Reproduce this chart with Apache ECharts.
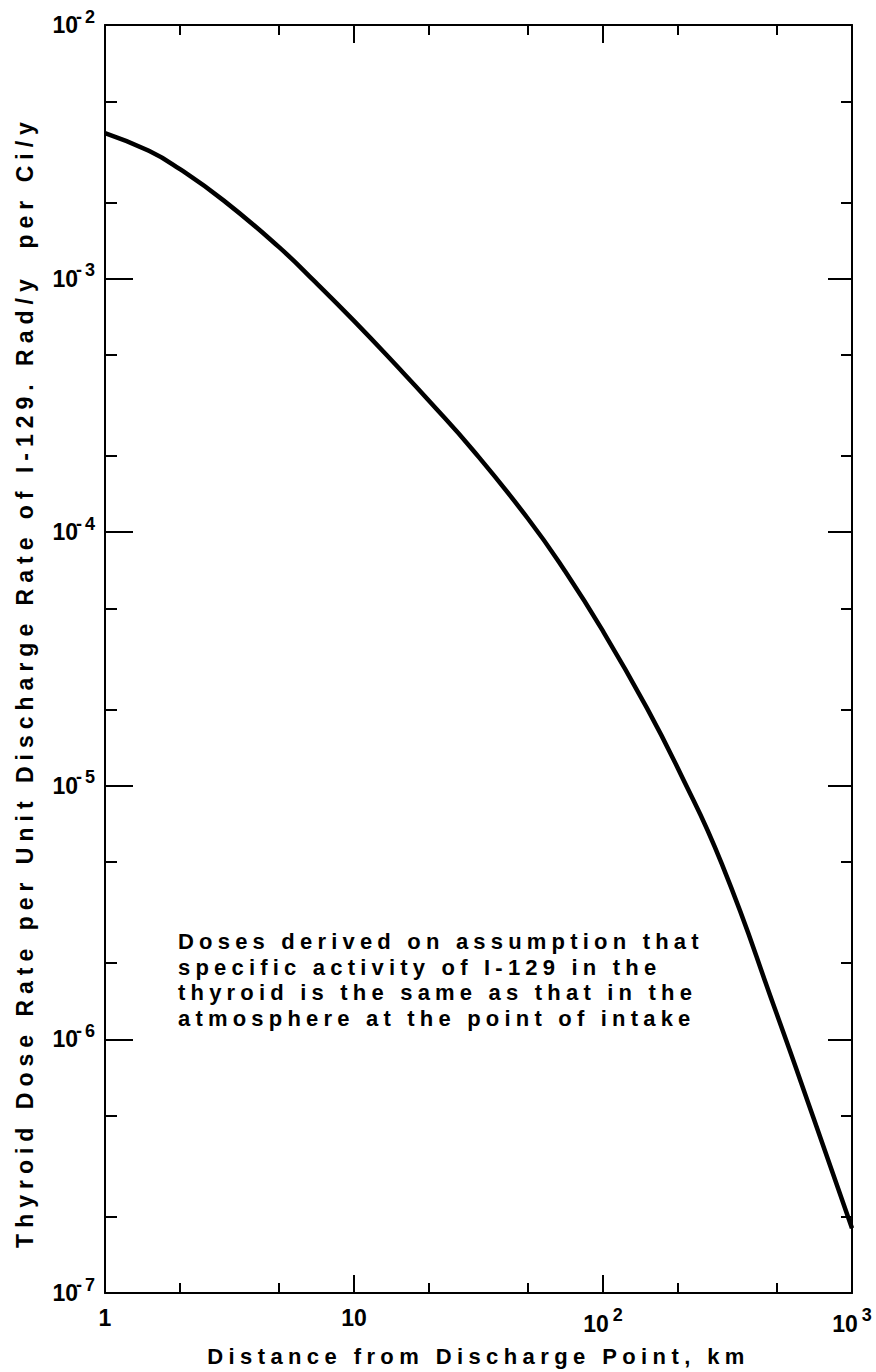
<!DOCTYPE html>
<html>
<head>
<meta charset="utf-8">
<script src="https://cdn.jsdelivr.net/npm/echarts@6/dist/echarts.min.js"></script>
<style>
  html, body { margin: 0; padding: 0; background: #fff; }
  #chart { width: 876px; height: 1372px; }
</style>
</head>
<body>
<div id="chart"></div>
<script>
// Distance from the discharge point (km) and thyroid dose rate per unit discharge rate (rad/y per Ci/y)
const distanceKm = [1, 1.5, 2, 3, 5, 7, 10, 15, 20, 30, 50, 70, 100, 150, 200, 300, 500, 700, 1000];
const doseRate = [3.75e-3, 3.19e-3, 2.70e-3, 2.03e-3, 1.33e-3, 9.68e-4, 6.81e-4, 4.48e-4, 3.30e-4, 2.11e-4, 1.13e-4, 7.08e-5, 4.07e-5, 2.03e-5, 1.17e-5, 4.92e-6, 1.25e-6, 4.91e-7, 1.80e-7];

// Tick positions
const xMajorTicks = [1, 10, 100, 1000];
const xMinorTicks = [2, 5, 20, 50, 200, 500];
const yMajorTicks = [1e-7, 1e-6, 1e-5, 1e-4, 1e-3, 1e-2];
const yMinorTicks = [2e-7, 5e-7, 2e-6, 5e-6, 2e-5, 5e-5, 2e-4, 5e-4, 2e-3, 5e-3];

const xTitle = 'Distance from Discharge Point, km';
const yTitle = 'Thyroid Dose Rate per Unit Discharge Rate of I-129. Rad/y\u00a0\u00a0per Ci/y';
const noteLines = [
  'Doses derived on assumption that',
  'specific activity of I-129 in the',
  'thyroid is the same as that in the',
  'atmosphere at the point of intake'
];

const FONT = 'Liberation Sans, Arial, sans-serif';
const INK = '#000';

// "10" followed by a raised exponent
function powerLabel(v) {
  const e = Math.round(Math.log10(v));
  if (e === 0) return '{b|1}';
  if (e === 1) return '{b|10}';
  return '{b|10}{s|' + (e < 0 ? '-' : '') + Math.abs(e) + '}';
}

const richLabel = {
  b: { fontFamily: FONT, fontSize: 23, fontWeight: 'bold', color: INK },
  s: { fontFamily: FONT, fontSize: 18, fontWeight: 'bold', color: INK, padding: [0, 0, 17, 4] }
};

const labelBase = {
  fontFamily: FONT, fontSize: 23, fontWeight: 'bold', color: INK,
  rich: richLabel, formatter: powerLabel
};

function baseAxis(extra) {
  return Object.assign({
    type: 'log',
    logBase: 10,
    splitLine: { show: false },
    axisLine: { show: false },
    axisLabel: { show: false },
    axisTick: { show: false }
  }, extra);
}

const chart = echarts.init(document.getElementById('chart'), null, { renderer: 'svg' });

const option = {
  animation: false,
  backgroundColor: '#fff',
  textStyle: { fontFamily: FONT, fontWeight: 'bold', color: INK },
  grid: { left: 105, right: 24, top: 25, bottom: 79, outerBoundsMode: 'none' },
  xAxis: [
    baseAxis({
      position: 'bottom', min: 1, max: 1000,
      axisLine: { show: true, lineStyle: { color: INK, width: 2 } },
      axisTick: { show: true, inside: true, length: 18, customValues: xMajorTicks, lineStyle: { color: INK, width: 2 } },
      axisLabel: Object.assign({ show: true, customValues: xMajorTicks, margin: 13 }, labelBase),
      name: xTitle, nameLocation: 'middle', nameGap: 52,
      nameTextStyle: { fontFamily: FONT, fontSize: 22, fontWeight: 'bold', color: INK }
    }),
    baseAxis({
      position: 'bottom', min: 1, max: 1000,
      axisTick: { show: true, inside: true, length: 10, customValues: xMinorTicks, lineStyle: { color: INK, width: 2 } }
    }),
    baseAxis({
      position: 'top', min: 1, max: 1000,
      axisLine: { show: true, lineStyle: { color: INK, width: 2 } },
      axisTick: { show: true, inside: true, length: 18, customValues: xMajorTicks, lineStyle: { color: INK, width: 2 } }
    }),
    baseAxis({
      position: 'top', min: 1, max: 1000,
      axisTick: { show: true, inside: true, length: 10, customValues: xMinorTicks, lineStyle: { color: INK, width: 2 } }
    })
  ],
  yAxis: [
    baseAxis({
      position: 'left', min: 1e-7, max: 1e-2,
      axisLine: { show: true, lineStyle: { color: INK, width: 2 } },
      axisTick: { show: true, inside: true, length: 28, customValues: yMajorTicks, lineStyle: { color: INK, width: 2 } },
      axisLabel: Object.assign({ show: true, customValues: yMajorTicks, margin: 7 }, labelBase)
    }),
    baseAxis({
      position: 'left', min: 1e-7, max: 1e-2,
      axisTick: { show: true, inside: true, length: 12, customValues: yMinorTicks, lineStyle: { color: INK, width: 2 } }
    }),
    baseAxis({
      position: 'right', min: 1e-7, max: 1e-2,
      axisLine: { show: true, lineStyle: { color: INK, width: 2 } },
      axisTick: { show: true, inside: true, length: 24, customValues: yMajorTicks, lineStyle: { color: INK, width: 2 } }
    }),
    baseAxis({
      position: 'right', min: 1e-7, max: 1e-2,
      axisTick: { show: true, inside: true, length: 11, customValues: yMinorTicks, lineStyle: { color: INK, width: 2 } }
    })
  ],
  graphic: [{
    // vertical axis title, reading bottom to top
    type: 'text',
    x: 25,
    y: 682,
    rotation: Math.PI / 2,
    style: {
      text: yTitle,
      fontFamily: FONT,
      fontSize: 23,
      fontWeight: 'bold',
      fill: INK,
      align: 'center',
      verticalAlign: 'middle'
    }
  }, {
    type: 'text',
    left: 178,
    top: 929,
    style: {
      text: noteLines.join('\n'),
      fontFamily: FONT,
      fontSize: 22,
      fontWeight: 'bold',
      lineHeight: 25.5,
      fill: INK
    }
  }],
  series: [{
    type: 'line',
    xAxisIndex: 0,
    yAxisIndex: 0,
    data: distanceKm.map((d, i) => [d, doseRate[i]]),
    showSymbol: false,
    smooth: 0.5,
    lineStyle: { color: INK, width: 4.5 },
    clip: false
  }]
};

chart.setOption(option);

// Widen the tracking of the captions and exponents, drawn in stencil-style lettering
function spaceCaptions() {
  document.querySelectorAll('#chart svg text').forEach(t => {
    const s = (t.textContent || '');
    if (s.startsWith('Thyroid')) t.style.letterSpacing = '6px';
    else if (s === xTitle) t.style.letterSpacing = '5.4px';
    else if (s.length > 6) t.style.letterSpacing = '5.2px';
    else if (/^-\d$/.test(s)) t.style.letterSpacing = '3px';
  });
}
chart.on('finished', spaceCaptions);
spaceCaptions();
</script>
</body>
</html>
